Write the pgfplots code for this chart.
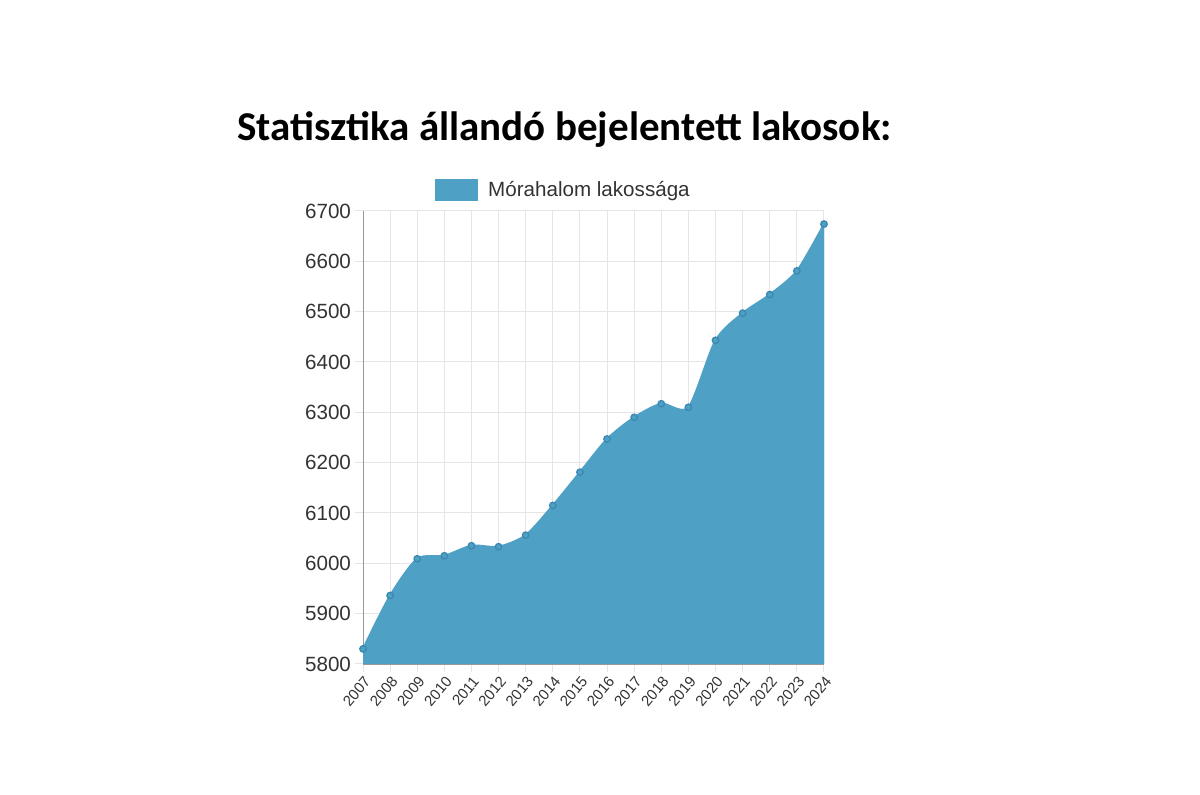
\documentclass[border=0pt]{standalone}
\usepackage{fontspec}
\setmainfont{Liberation Sans}
\newfontfamily\titlefont{Carlito}
\usepackage{pgfplots}
\pgfplotsset{compat=1.18}
\definecolor{areablue}{RGB}{79,160,197}
\definecolor{markblue}{RGB}{60,138,178}
\definecolor{gridgray}{RGB}{229,229,229}
\definecolor{labelgray}{RGB}{51,51,51}

\pgfplotstableread{
year pop
2007 5830
2008 5936
2009 6009
2010 6015
2011 6035
2012 6033
2013 6056
2014 6115
2015 6181
2016 6247
2017 6290
2018 6317
2019 6310
2020 6443
2021 6497
2022 6534
2023 6581
2024 6674
}\popdata

\begin{document}
\begin{tikzpicture}
% page frame: 1200x795 px at 0.5pt per px
\path (0pt,0pt) rectangle (600pt,397.5pt);
\node[font=\titlefont\bfseries\fontsize{20.5}{24}\selectfont, text=black]
  at (282.25pt,332.5pt) {Statisztika állandó bejelentett lakosok:};
\begin{axis}[
  at={(181.5pt,65.5pt)}, anchor=south west,
  scale only axis, width=230.5pt, height=226.5pt,
  xmin=2007, xmax=2024, ymin=5800, ymax=6700,
  xtick={2007,...,2024}, ytick={5800,5900,...,6700},
  /pgf/number format/1000 sep={},
  /pgf/number format/assume math mode=true,
  axis x line*=bottom, axis y line*=left,
  axis line style={draw=gray!80, -},
  grid=major, grid style={draw=gridgray, line width=0.5pt},
  tick align=outside, major tick length=4pt,
  tick style={draw=gridgray, line width=0.5pt},
  y tick label style={font=\fontsize{10.3}{12}\selectfont, text=labelgray, xshift=1.5pt},
  x tick label style={font=\fontsize{7.5}{9}\selectfont, text=labelgray,
    rotate=50, anchor=north east, inner sep=1pt},
  legend style={at={(0.437,1.046)}, anchor=center, draw=none, fill=none,
    font=\fontsize{10.3}{12}\selectfont, text=labelgray,
    /tikz/every even column/.append style={column sep=2pt}},
  legend image code/.code={\draw[fill=areablue, draw=areablue] (0pt,-5pt) rectangle (20.5pt,5pt);},
]
\addplot[fill=areablue, draw=areablue, line width=1pt, smooth, tension=0.45]
  table[x=year, y=pop] {\popdata} \closedcycle;
\addlegendentry{\hspace{3pt}Mórahalom lakossága}
\addplot[only marks, mark=*, mark size=1.6pt,
  mark options={fill=areablue, draw=markblue, line width=0.7pt}, forget plot]
  table[x=year, y=pop] {\popdata};
\end{axis}
\end{tikzpicture}
\end{document}
